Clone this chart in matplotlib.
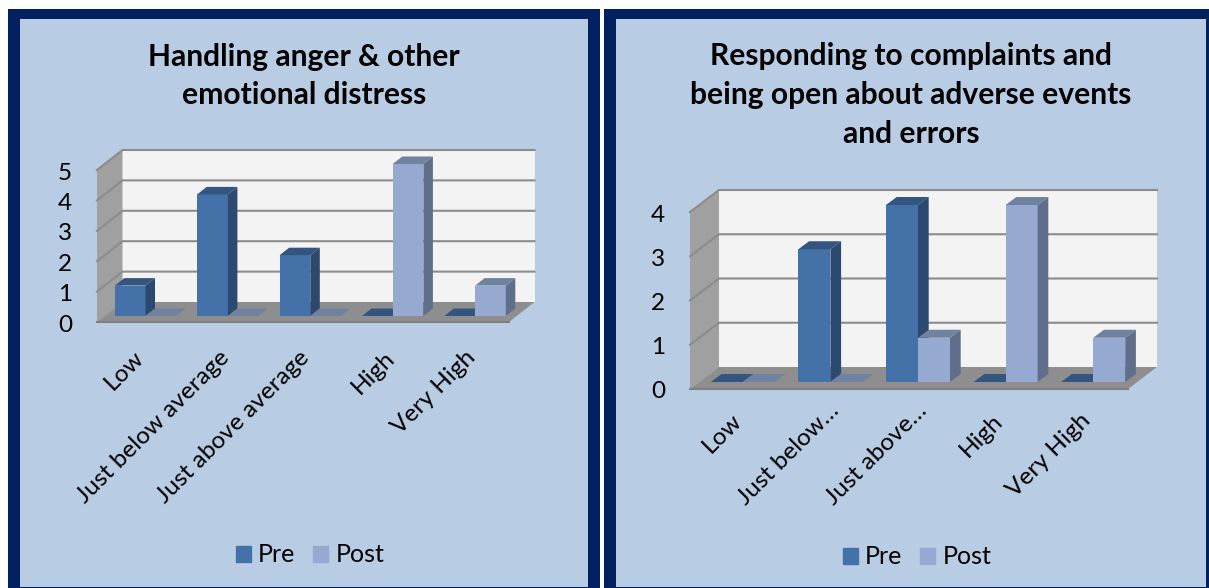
import matplotlib
matplotlib.use("Agg")
import matplotlib.pyplot as plt
from matplotlib.patches import Rectangle, Patch
from matplotlib.transforms import ScaledTranslation

plt.rcParams['font.family'] = ['Lato', 'DejaVu Sans']

categories_a = ["Low", "Just below average", "Just above average", "High", "Very High"]
pre_a = [1, 4, 2, 0, 0]
post_a = [0, 0, 0, 5, 1]
ticks_a = [0, 1, 2, 3, 4, 5]
title_a = "Handling anger & other\nemotional distress"

categories_b = ["Low", "Just below…", "Just above…", "High", "Very High"]
pre_b = [0, 3, 4, 0, 0]
post_b = [0, 0, 1, 4, 1]
ticks_b = [0, 1, 2, 3, 4]
title_b = "Responding to complaints and\nbeing open about adverse events\nand errors"

W, H = 1209, 588
PANEL = '#B8CCE4'
BORDER = '#002060'
PRE = ('#4472A8', '#33557F', '#2C4A70')
POST = ('#95A9D1', '#6F82A0', '#5F6E8A')

fig = plt.figure(figsize=(W / 100, H / 100), dpi=100, facecolor='white')


def rect(x0, y0, x1, y1, color, z):
    fig.add_artist(Rectangle((x0 / W, 1 - y1 / H), (x1 - x0) / W, (y1 - y0) / H,
                             transform=fig.transFigure, facecolor=color,
                             edgecolor='none', zorder=z))


def panel(x0, x1, bw=12):
    rect(x0, 9, x1, H + 2, BORDER, -3)
    rect(x0 + bw, 19, x1 - bw, 587, PANEL, -2)


def bar3d(ax, xs, vals, base, width, ddx, ddy, cols, label):
    ax.bar(xs, vals, width=width, bottom=base, align='edge', color=cols[0],
           linewidth=0, zorder=5, clip_on=False, label=label)
    for x, v in zip(xs, vals):
        top = base + v
        ax.fill([x, x + width, x + width + ddx, x + ddx],
                [top, top, top + ddy, top + ddy],
                color=cols[1], lw=0, zorder=5, clip_on=False)
        if v > 0:
            ax.fill([x + width, x + width + ddx, x + width + ddx, x + width],
                    [base, base + ddy, top + ddy, top],
                    color=cols[2], lw=0, zorder=5, clip_on=False)


def chart(cats, pre, post, ticks, title, tx, ty, x0, pitch, y0, unit, wdx, wdy,
          bar_w, bar_shift, bar_dy, bdx, bdy, leg_xy, lab_pad, lab_shifts):
    ymax = ticks[-1]
    ax = fig.add_axes([x0 / W, 1 - y0 / H, pitch * 5 / W, unit * ymax / H])
    ax.patch.set_visible(False)
    ax.set_xlim(-0.5, 4.5)
    ax.set_ylim(0, ymax)
    for s in ax.spines.values():
        s.set_visible(False)
    dx = wdx / pitch
    dy = wdy / unit
    # back wall, side wall, floor
    ax.fill([-0.5 + dx, 4.5 + dx, 4.5 + dx, -0.5 + dx], [dy, dy, ymax + dy, ymax + dy],
            color='#F3F3F3', lw=0, zorder=1, clip_on=False)
    ax.fill([-0.5, -0.5 + dx, -0.5 + dx, -0.5], [0, dy, ymax + dy, ymax],
            color='#A0A0A0', lw=0, zorder=1, clip_on=False)
    ax.fill([-0.5, 4.5, 4.5 + dx, -0.5 + dx], [0, 0, dy, dy],
            color='#8E8E8E', lw=0, zorder=2, clip_on=False)
    for t in ticks[1:]:
        ax.plot([-0.5, -0.5 + dx, 4.5 + dx], [t, t + dy, t + dy], color='#8C8C8C',
                lw=1.5, zorder=3, clip_on=False, solid_joinstyle='miter')
    ax.plot([-0.5, 4.5], [0, 0], color='#808080', lw=1.5, zorder=3, clip_on=False)

    w = bar_w / pitch
    s = bar_shift / pitch
    base = bar_dy / unit
    cx = list(range(len(cats)))
    bar3d(ax, [c + s - w for c in cx], pre, base, w, bdx / pitch, bdy / unit, PRE, 'Pre')
    bar3d(ax, [c + s for c in cx], post, base, w, bdx / pitch, bdy / unit, POST, 'Post')

    ax.set_yticks(ticks)
    ax.set_yticklabels([str(t) for t in ticks], fontsize=17.5, color='black')
    ax.set_xticks(cx)
    ax.set_xticklabels(cats, rotation=45, ha='right', va='top', rotation_mode='anchor',
                       fontsize=17.6, color='black')
    ax.tick_params(axis='both', length=0)
    ax.tick_params(axis='y', pad=18)
    ax.tick_params(axis='x', pad=lab_pad)
    shift_y = ScaledTranslation(0, -1 / 100, fig.dpi_scale_trans)
    for lab, (sx, sy) in zip(ax.get_xticklabels(), lab_shifts):
        lab.set_transform(lab.get_transform()
                          + ScaledTranslation(sx / 100, sy / 100, fig.dpi_scale_trans))
    for lab in ax.get_yticklabels():
        lab.set_transform(lab.get_transform() + shift_y)

    fig.text(tx / W, 1 - ty / H, title, ha='center', va='center', fontsize=21.6,
             fontweight='bold', color='black', linespacing=1.47)
    fig.legend(handles=[Patch(color=PRE[0], label='Pre'), Patch(color=POST[0], label='Post')],
               loc='center', bbox_to_anchor=(leg_xy[0] / W, 1 - leg_xy[1] / H), ncols=2,
               frameon=False, fontsize=18, handlelength=0.6, handleheight=0.6,
               handletextpad=0.3, columnspacing=0.7, labelcolor='black')


panel(8, 600)
panel(604, 1218)

chart(categories_a, pre_a, post_a, ticks_a, title_a, 304, 76,
      x0=97, pitch=82.4, y0=322, unit=30.4, wdx=25.5, wdy=20,
      bar_w=30.7, bar_shift=7.3, bar_dy=6, bdx=9.5, bdy=7.5,
      leg_xy=(310, 555), lab_pad=18,
      lab_shifts=[(-5, 0), (-2, 0), (-5, 0), (-2, 0), (-3, 0)])
chart(categories_b, pre_b, post_b, ticks_b, title_b, 911, 95,
      x0=690, pitch=87.6, y0=389, unit=44.25, wdx=29, wdy=22,
      bar_w=32, bar_shift=9, bar_dy=7, bdx=10.7, bdy=8,
      leg_xy=(917, 557), lab_pad=15,
      lab_shifts=[(-3, 0), (7, 10), (7, 10), (-5, 0), (-5, 0)])

fig.savefig('out.png', dpi=100, facecolor='white')
